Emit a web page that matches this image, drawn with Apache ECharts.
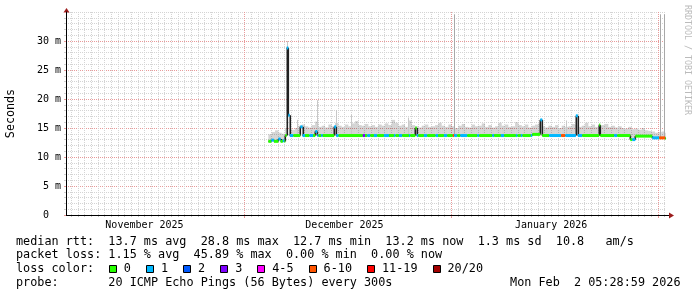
<!DOCTYPE html>
<html><head><meta charset="utf-8">
<script src="https://cdn.jsdelivr.net/npm/echarts@6/dist/echarts.min.js"></script>
<style>html,body{margin:0;padding:0;background:#fff}#c{width:697px;height:297px}</style>
</head><body><div id="c"></div>
<script>
// ---------------- data ----------------
const rangeStart = '2025-11-04T05:28:59';
const rangeEnd = '2026-02-02T05:28:59';
const dataEnd = '2026-02-02T05:00';
const monthLabelTimes = ['2025-11-16T00:00', '2025-12-16T00:00', '2026-01-16T00:00'];
const monthLabels = ['November 2025', 'December 2025', 'January 2026'];
const yTickValues = [0, 5, 10, 15, 20, 25, 30];
const yTickLabels = ['0  ', '5 m', '10 m', '15 m', '20 m', '25 m', '30 m'];

// median rtt runs (ms) with loss class index
const runStart = [
 '2025-12-04T14:00','2025-12-05T01:00','2025-12-05T10:00','2025-12-06T02:00','2025-12-06T10:00','2025-12-06T18:00',
 '2025-12-07T00:00','2025-12-07T03:00','2025-12-07T08:00','2025-12-07T14:00','2025-12-07T19:00','2025-12-08T08:00',
 '2025-12-09T09:00','2025-12-09T17:00','2025-12-10T02:00','2025-12-10T18:00','2025-12-11T07:00','2025-12-11T15:00',
 '2025-12-11T22:00','2025-12-12T03:00','2025-12-12T12:00','2025-12-12T18:00','2025-12-14T11:00','2025-12-14T18:00',
 '2025-12-15T03:00','2025-12-18T18:00','2025-12-19T02:00','2025-12-19T10:00','2025-12-19T21:00','2025-12-20T10:00',
 '2025-12-20T22:00','2025-12-21T22:00','2025-12-22T16:00','2025-12-23T10:00','2025-12-23T16:00','2025-12-24T04:00',
 '2025-12-24T16:00','2025-12-25T16:00','2025-12-25T21:00','2025-12-26T15:00','2025-12-26T20:00','2025-12-27T02:00',
 '2025-12-27T22:00','2025-12-28T10:00','2025-12-29T16:00','2025-12-30T01:00','2025-12-30T22:00','2025-12-31T10:00',
 '2026-01-01T06:00','2026-01-01T11:00','2026-01-01T22:00','2026-01-02T09:00','2026-01-03T10:00','2026-01-04T22:00',
 '2026-01-05T05:00','2026-01-07T04:00','2026-01-07T11:00','2026-01-08T11:00','2026-01-08T23:00','2026-01-10T17:00',
 '2026-01-10T23:00','2026-01-11T11:00','2026-01-11T17:00','2026-01-12T23:00','2026-01-13T04:00','2026-01-14T09:00',
 '2026-01-14T16:00','2026-01-15T17:00','2026-01-17T12:00','2026-01-18T03:00','2026-01-19T17:00','2026-01-20T00:00',
 '2026-01-20T16:00','2026-01-23T05:00','2026-01-23T09:00','2026-01-25T11:00','2026-01-25T22:00','2026-01-27T21:00',
 '2026-01-28T04:00','2026-01-28T15:00','2026-01-31T04:00','2026-02-01T05:00','2026-02-02T03:00'
];
const runMedian = [
 12.7,12.9,12.7,13.1,12.7,12.8,
 12.7,13.7,28.8,17.2,13.7,13.7,
 15.2,13.7,13.7,13.7,13.7,14.4,
 13.7,13.7,13.7,13.7,15.2,13.7,
 13.7,13.7,13.7,13.7,13.7,13.7,
 13.7,13.7,13.7,13.7,13.7,13.7,
 13.7,13.7,13.7,15.0,13.7,13.7,
 13.7,13.7,13.7,13.7,13.7,13.7,
 13.7,13.7,13.7,13.7,13.7,13.7,
 13.7,13.7,13.7,13.7,13.7,13.7,
 13.7,13.7,13.7,13.7,13.9,16.4,
 13.7,13.7,13.7,13.7,17.1,13.7,
 13.7,15.5,13.7,13.7,13.7,13.0,
 13.0,13.6,13.3,13.3,13.2
];
const runLoss = [
 0,1,0,1,0,1,
 0,0,1,1,1,0,
 1,1,0,1,0,1,
 1,0,1,0,1,1,
 0,3,0,1,0,1,
 0,1,0,1,0,1,
 0,1,0,0,1,0,
 1,0,1,0,1,0,
 5,1,0,1,0,1,
 0,1,0,1,0,1,
 0,1,0,1,0,1,
 0,1,5,1,1,1,
 0,0,0,1,0,0,
 1,0,1,5,0
];

// smoke (upper spread of pings, ms) in 12-hour bins starting at smokeStart
const smokeStart = '2025-12-04T14:00';
const smokeTop = [
 13.9,14.3,14.6,14.2,14.0,15.0,14.8,14.7,15.0,15.4,
 15.6,15.3,15.1,15.5,16.1,15.2,15.4,15.1,15.6,15.3,
 15.9,15.4,15.2,15.6,15.3,15.8,16.2,15.5,15.4,15.7,
 15.3,15.5,15.2,15.6,15.4,15.8,15.5,16.4,15.9,15.4,
 15.6,15.2,16.3,15.5,15.3,15.1,15.4,15.6,15.2,15.3,
 15.5,15.9,15.4,15.2,15.6,15.3,15.0,15.4,15.7,15.2,
 15.1,15.6,15.3,15.4,15.8,15.2,15.5,15.1,15.3,15.9,
 15.4,15.6,15.2,15.3,16.0,15.5,15.3,15.6,15.1,15.4,
 15.6,15.8,15.3,15.1,15.4,15.2,15.5,15.0,15.4,15.2,
 15.3,15.7,15.5,15.2,15.4,15.9,15.3,15.6,15.2,15.4,
 15.5,15.7,15.2,15.4,15.1,15.3,15.0,14.9,15.2,14.8,
 14.9,14.7,15.0,14.6,14.5,14.4,14.2,14.3,14.4,14.2
];
// isolated max-ping outliers
const spikeTime = ['2025-12-07T09:00','2025-12-08T20:00','2025-12-11T21:00','2025-12-14T16:00','2025-12-17T01:00',
 '2025-12-25T12:00','2026-01-01T09:00','2026-01-18T05:00','2026-02-01T09:00','2026-02-01T23:00'];
const spikeMax = [30.0, 16.4, 19.8, 18.1, 17.3, 16.8, 34.6, 16.3, 34.6, 34.6];

const lossLabels = ['0', '1', '2', '3', '4-5', '6-10', '11-19', '20/20'];
const lossColors = ['#26ff00', '#00b8ff', '#0059ff', '#7e00ff', '#ff00ff', '#ff5500', '#ff0000', '#a10000'];

const legendLine1 = 'median rtt:  13.7 ms avg  28.8 ms max  12.7 ms min  13.2 ms now  1.3 ms sd  10.8   am/s';
const legendLine2 = 'packet loss: 1.15 % avg  45.89 % max  0.00 % min  0.00 % now';
const legendLine3 = 'loss color:';
const legendLine4 = 'probe:       20 ICMP Echo Pings (56 Bytes) every 300s';
const stampText = 'Mon Feb  2 05:28:59 2026';
const creditText = 'RRDTOOL / TOBI OETIKER';

// ---------------- build ----------------
const MONO = '"DejaVu Sans Mono", "Liberation Mono", monospace';
const T = s => Date.parse(s.length === 16 ? s + ':00Z' : s + 'Z');
const xMin = T(rangeStart), xMax = T(rangeEnd), tEnd = T(dataEnd);
const Y_MAX = 35;
const HOUR = 3600000, DAY = 24 * HOUR, SMOKE_STEP = 12 * HOUR;

const runs = runStart.map((s, i) => [T(s), i + 1 < runStart.length ? T(runStart[i + 1]) : tEnd, runMedian[i], runLoss[i]]);
const medianAt = t => { for (const r of runs) if (t >= r[0] && t < r[1]) return r[2]; return runs[runs.length - 1][2]; };
const medianSegs = runs.map((r, i) => [r[0], r[1], r[2], i > 0 ? runs[i - 1][2] : r[2]]);

const smokeItems = [];
smokeTop.forEach((top, i) => {
  const a = T(smokeStart) + i * SMOKE_STEP, b = Math.min(a + SMOKE_STEP, tEnd);
  runs.forEach(r => {
    const s = Math.max(a, r[0]), e = Math.min(b, r[1]);
    if (e > s && top > r[2]) smokeItems.push([s, e, r[2], top]);
  });
});
const spikeItems = spikeTime.map((s, i) => [T(s), medianAt(T(s)), spikeMax[i]]);
const dayLines = [];
for (let t = Date.UTC(2025, 10, 5); t <= xMax; t += DAY) dayLines.push([t, 0]);
const monthItems = monthLabelTimes.map((s, i) => [T(s), 0, i]);

const chart = echarts.init(document.getElementById('c'), null, { renderer: 'canvas', width: 697, height: 297 });

const option = {
  animation: false,
  grid: { left: 66, right: 31, top: 12, bottom: 82, containLabel: false, outerBoundsMode: 'none' },
  xAxis: {
    type: 'time', min: xMin, max: xMax,
    axisLine: { show: true, lineStyle: { color: '#000', width: 1 } },
    axisTick: { show: false }, axisLabel: { show: false }, splitLine: { show: false }
  },
  yAxis: {
    type: 'value', min: 0, max: Y_MAX, interval: 5,
    name: 'Seconds', nameLocation: 'middle', nameGap: 49, nameRotate: 90,
    nameTextStyle: { fontFamily: MONO, fontSize: 11.7, color: '#000' },
    axisLine: { show: true, lineStyle: { color: '#000', width: 1 } },
    axisTick: { show: true, length: 2, lineStyle: { color: '#e89a9a' } },
    minorTick: { show: true, splitNumber: 5, length: 2, lineStyle: { color: '#cfcfcf' } },
    axisLabel: {
      margin: 5, fontFamily: MONO, fontSize: 10, color: '#000',
      formatter: v => { const k = yTickValues.indexOf(v); return k >= 0 ? yTickLabels[k] : ''; }
    },
    splitLine: { show: true, lineStyle: { color: ['#e89a9a','#e89a9a','#e89a9a','#e89a9a','#e89a9a','#e89a9a','#e89a9a','#d4d4d4'], type: [1, 1], width: 1 } },
    minorSplitLine: { show: true, lineStyle: { color: '#d4d4d4', type: [1, 1], width: 1 } }
  },
  series: [
    { // vertical day / month grid
      type: 'custom', z: 0, silent: true, data: dayLines, encode: { x: 0, y: 1 },
      renderItem: (params, api) => {
        const t = api.value(0);
        const x = Math.round(api.coord([t, 0])[0]) + 0.5;
        const cs = params.coordSys;
        const major = new Date(t).getUTCDate() === 1;
        const b = cs.y + cs.height;
        return { type: 'group', children: [
          { type: 'line', shape: { x1: x, y1: cs.y, x2: x, y2: b }, style: { stroke: major ? '#e89a9a' : '#d4d4d4', lineDash: [1, 1], lineWidth: 1 } },
          { type: 'line', shape: { x1: x, y1: b, x2: x, y2: b + (major ? 3 : 2) }, style: { stroke: major ? '#e89a9a' : '#c4c4c4', lineWidth: 1 } }
        ] };
      }
    },
    { // month labels
      type: 'custom', z: 1, silent: true, data: monthItems, encode: { x: 0, y: 1 },
      renderItem: (params, api) => {
        const p = api.coord([api.value(0), 0]);
        return { type: 'text', x: p[0], y: p[1] + 10, style: { text: monthLabels[api.value(2)], fill: '#000', font: '10px ' + MONO, align: 'center', verticalAlign: 'middle' } };
      }
    },
    { // smoke
      type: 'custom', z: 2, silent: true, data: smokeItems, encode: { x: [0, 1], y: [2, 3] },
      renderItem: (params, api) => {
        const p0 = api.coord([api.value(0), api.value(3)]);
        const p1 = api.coord([api.value(1), api.value(2)]);
        return { type: 'rect', shape: { x: p0[0], y: p0[1], width: p1[0] - p0[0], height: p1[1] - p0[1] }, style: { fill: 'rgba(0,0,0,0.17)' } };
      }
    },
    { // max outliers
      type: 'custom', z: 3, silent: true, data: spikeItems, encode: { x: 0, y: [1, 2] },
      renderItem: (params, api) => {
        const p0 = api.coord([api.value(0), api.value(1)]);
        const p1 = api.coord([api.value(0), api.value(2)]);
        const x = Math.round(p0[0]) + 0.5;
        const tall = api.value(2) - api.value(1) > 15;
        return { type: 'line', shape: { x1: x, y1: p0[1], x2: x, y2: p1[1] }, style: { stroke: tall ? '#a8a8a8' : '#c8c8c8', lineWidth: 1 } };
      }
    },
    { // median line (steps)
      type: 'custom', z: 4, silent: true, data: medianSegs, encode: { x: [0, 1], y: [2, 3] },
      renderItem: (params, api) => {
        const a = api.coord([api.value(0), api.value(2)]);
        const b = api.coord([api.value(1), api.value(2)]);
        const prev = api.coord([api.value(0), api.value(3)]);
        const x = Math.round(a[0]);
        return { type: 'group', children: [
          { type: 'line', shape: { x1: a[0], y1: a[1], x2: b[0], y2: b[1] }, style: { stroke: '#202020', lineWidth: 1 } },
          { type: 'rect', shape: { x: x - 0.5, y: Math.min(a[1], prev[1]), width: 1.6, height: Math.abs(a[1] - prev[1]) }, style: { fill: '#202020' } }
        ] };
      }
    },
    { // loss-colored band around median
      type: 'custom', z: 5, silent: true, data: runs, encode: { x: [0, 1], y: 2 },
      renderItem: (params, api) => {
        const p0 = api.coord([api.value(0), api.value(2)]);
        const p1 = api.coord([api.value(1), api.value(2)]);
        return { type: 'rect', shape: { x: p0[0], y: p0[1] - 1.5, width: p1[0] - p0[0], height: 3 }, style: { fill: lossColors[api.value(3)] } };
      }
    }
  ]
};
chart.setOption(option);

// ---------------- decorations & legend ----------------
const origin = chart.convertToPixel({ xAxisIndex: 0, yAxisIndex: 0 }, [xMax, 0]);
const topLeft = chart.convertToPixel({ xAxisIndex: 0, yAxisIndex: 0 }, [xMin, Y_MAX]);
const ARROW = '#9b1c1c';
const ax = origin[0], ay = Math.round(origin[1]) + 0.5;
const tx = Math.round(topLeft[0]) + 0.5, ty = topLeft[1];

const FS = 11.8, CW = FS * 0.602, LX = 16;
const rowY = [241.7, 255.3, 269.3, 283.3];
const txt = (s, x, y, extra) => Object.assign({ type: 'text', x: x, y: y, style: { text: s, fill: '#000', font: FS + 'px ' + MONO, align: 'left', verticalAlign: 'middle' } }, extra || {});

const g = [
  { type: 'line', shape: { x1: ax, y1: ay, x2: ax + 3, y2: ay }, style: { stroke: '#000', lineWidth: 1 } },
  { type: 'polygon', shape: { points: [[ax + 3, ay - 3], [ax + 8, ay], [ax + 3, ay + 3]] }, style: { fill: ARROW } },
  { type: 'polygon', shape: { points: [[tx - 3, ty + 0.5], [tx, ty - 4], [tx + 3, ty + 0.5]] }, style: { fill: ARROW } },
  { type: 'text', x: 687, y: 5, rotation: -Math.PI / 2, style: { text: creditText, fill: '#bbbbbb', font: '8.3px ' + MONO, align: 'left', verticalAlign: 'middle' } },
  txt(legendLine1, LX, rowY[0]),
  txt(legendLine2, LX, rowY[1]),
  txt(legendLine3, LX, rowY[2]),
  txt(legendLine4, LX, rowY[3]),
  { type: 'text', x: 680.5, y: rowY[3], style: { text: stampText, fill: '#000', font: FS + 'px ' + MONO, align: 'right', verticalAlign: 'middle' } }
];
let bx = LX + 13 * CW + 0.5;
lossLabels.forEach((lab, i) => {
  g.push({ type: 'rect', shape: { x: Math.round(bx) + 0.5, y: 265.5, width: 7, height: 7 }, style: { fill: lossColors[i], stroke: '#000', lineWidth: 1 } });
  g.push(txt(lab, bx + 15, rowY[2]));
  bx += 15 + lab.length * CW + 15;
});
chart.setOption({ graphic: { elements: g } });
</script>
</body></html>
